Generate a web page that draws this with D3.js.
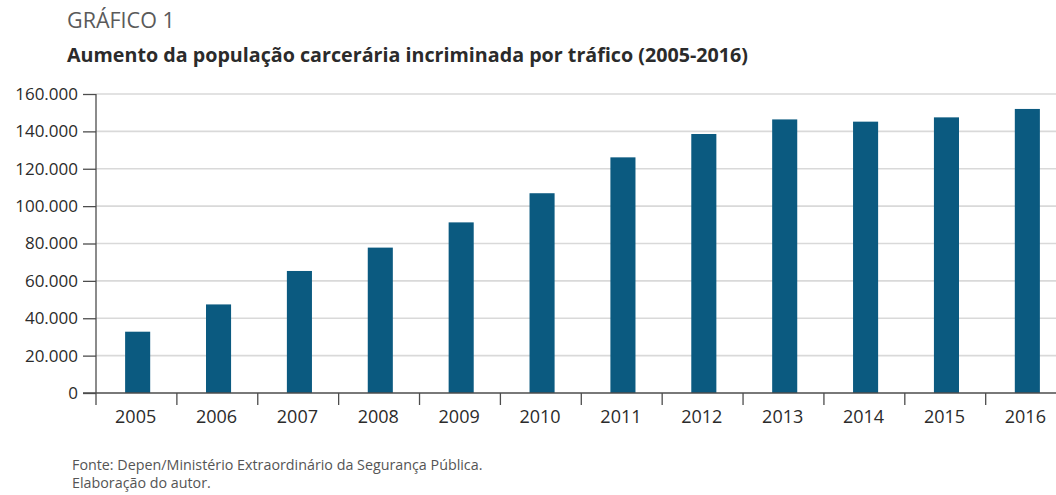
<!DOCTYPE html>
<html>
<head>
<meta charset="utf-8">
<script src="https://cdn.jsdelivr.net/npm/d3@7"></script>
<style>
  html, body { margin: 0; padding: 0; background: #ffffff; }
  svg { display: block; }
</style>
</head>
<body>
<svg id="chart" width="1056" height="495"></svg>
<script>
// Presos incriminados por tráfico, 2005–2016
const years = ["2005", "2006", "2007", "2008", "2009", "2010",
               "2011", "2012", "2013", "2014", "2015", "2016"];
const prisoners = [32800, 47400, 65300, 77800, 91300, 106900,
                   126100, 138600, 146400, 145200, 147500, 152000];
const yTicks = [0, 20000, 40000, 60000, 80000, 100000, 120000, 140000, 160000];

const svg = d3.select("#chart");
const W = 1056, H = 495;

const plot = { left: 96, right: 1069, top: 94, bottom: 393 };
const FONT = "'Open Sans', 'Noto Sans', sans-serif";

const x = d3.scaleBand()
  .domain(years)
  .range([plot.left, plot.right])
  .paddingInner(0.69)
  .paddingOuter(0.36);

const y = d3.scaleLinear()
  .domain([0, 160000])
  .range([plot.bottom, plot.top]);

const fmt = v => d3.format(",")(v).replace(/,/g, ".");

// Titles
svg.append("text")
  .attr("x", 67).attr("y", 28)
  .attr("font-family", FONT)
  .attr("font-size", 21.5)
  .attr("fill", "#5a5a5a")
  .text("GRÁFICO 1");

svg.append("text")
  .attr("x", 67).attr("y", 62)
  .attr("font-family", FONT)
  .attr("font-weight", 700)
  .attr("font-size", 19.7)
  .attr("fill", "#2b2b2b")
  .text("Aumento da população carcerária incriminada por tráfico (2005-2016)");

// Horizontal gridlines
svg.append("g")
  .selectAll("line")
  .data(yTicks.filter(t => t > 0))
  .join("line")
  .attr("x1", plot.left).attr("x2", W)
  .attr("y1", d => y(d)).attr("y2", d => y(d))
  .attr("stroke", "#d9d9d9")
  .attr("stroke-width", 1.6);

// Bars
svg.append("g")
  .selectAll("rect")
  .data(years.map((yr, i) => ({ yr, v: prisoners[i] })))
  .join("rect")
  .attr("x", d => x(d.yr))
  .attr("y", d => y(d.v))
  .attr("width", x.bandwidth())
  .attr("height", d => y(0) - y(d.v))
  .attr("fill", "#0b5a80");

// Y axis
const yAxis = d3.axisLeft(y)
  .tickValues(yTicks)
  .tickFormat(fmt)
  .tickSize(13)
  .tickPadding(5);

const gy = svg.append("g")
  .attr("transform", `translate(${plot.left},0)`)
  .call(yAxis);
gy.select(".domain").attr("stroke", "#4d4d4d").attr("stroke-width", 1.3)
  .attr("d", `M0,${plot.top}V${plot.bottom + 12}`);
gy.selectAll(".tick line").attr("stroke", "#4d4d4d").attr("stroke-width", 1.3);
gy.selectAll(".tick text")
  .attr("font-family", FONT)
  .attr("font-size", 17)
  .attr("fill", "#2b2b2b");

// X axis: baseline, boundary ticks and year labels
const gx = svg.append("g");
gx.append("line")
  .attr("x1", plot.left - 13).attr("x2", W)
  .attr("y1", y(0)).attr("y2", y(0))
  .attr("stroke", "#4d4d4d").attr("stroke-width", 1.3);

const boundaries = years.map(yr => x(yr) - x.step() * x.paddingOuter());
gx.selectAll("line.tick")
  .data(boundaries.slice(1))
  .join("line")
  .attr("class", "tick")
  .attr("x1", d => d).attr("x2", d => d)
  .attr("y1", y(0)).attr("y2", y(0) + 12)
  .attr("stroke", "#4d4d4d").attr("stroke-width", 1.3);

gx.selectAll("text")
  .data(years)
  .join("text")
  .attr("x", d => x(d) + x.bandwidth() / 2 - 2)
  .attr("y", y(0) + 30)
  .attr("text-anchor", "middle")
  .attr("font-family", FONT)
  .attr("font-size", 18)
  .attr("fill", "#2b2b2b")
  .text(d => d);

// Source notes
svg.append("text")
  .attr("x", 72).attr("y", 470)
  .attr("font-family", FONT)
  .attr("font-size", 14.3)
  .attr("fill", "#555555")
  .text("Fonte: Depen/Ministério Extraordinário da Segurança Pública.");
svg.append("text")
  .attr("x", 72).attr("y", 488)
  .attr("font-family", FONT)
  .attr("font-size", 14.3)
  .attr("fill", "#555555")
  .text("Elaboração do autor.");
</script>
</body>
</html>
